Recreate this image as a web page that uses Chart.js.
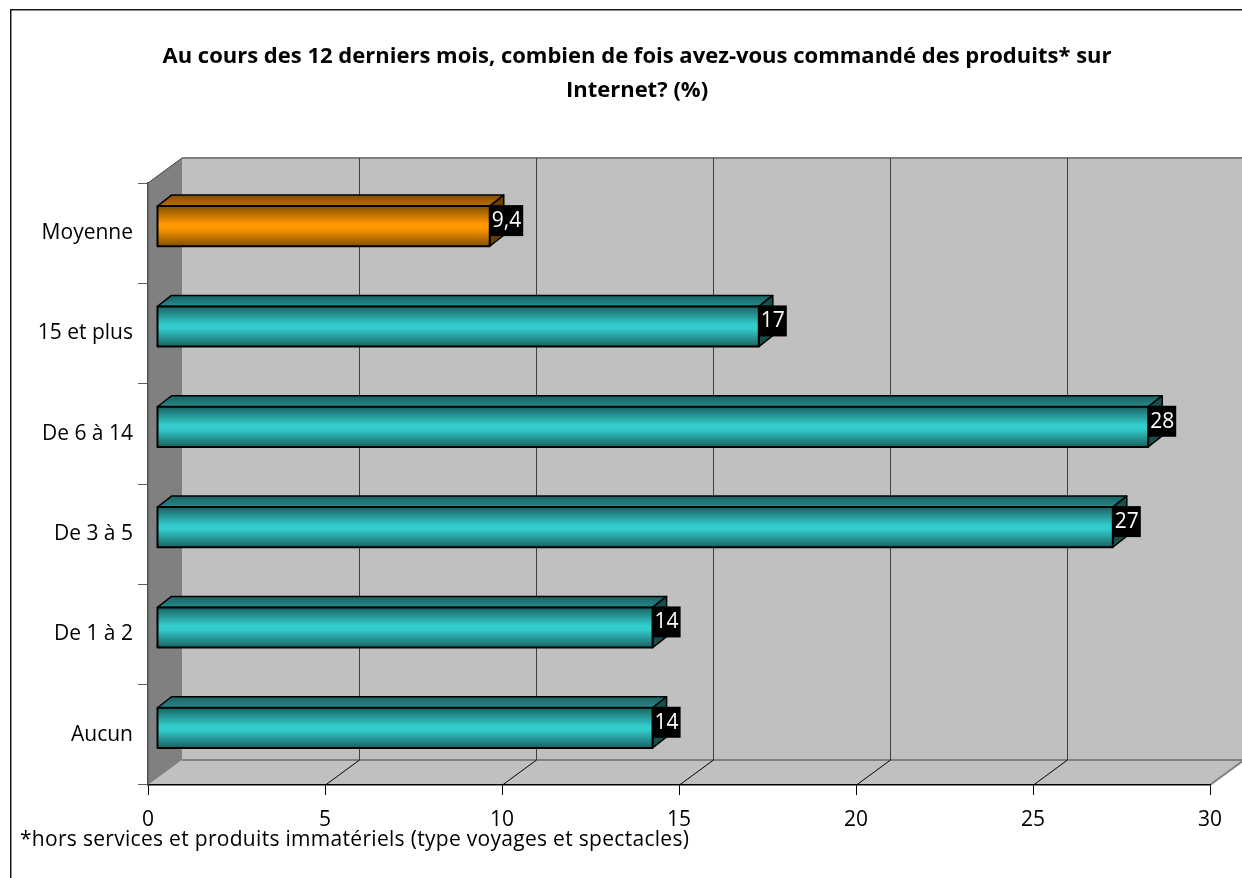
<!DOCTYPE html>
<html>
<head>
<meta charset="utf-8">
<script src="https://cdn.jsdelivr.net/npm/chart.js@4.4.1/dist/chart.umd.min.js"></script>
<style>
  html, body { margin: 0; padding: 0; background: #ffffff; }
  #wrap { width: 1242px; height: 878px; }
</style>
</head>
<body>
<div id="wrap"><canvas id="c" width="1242" height="878"></canvas></div>
<script>
// ---- data ----
const categories = ['Moyenne', '15 et plus', 'De 6 à 14', 'De 3 à 5', 'De 1 à 2', 'Aucun'];
const values = [9.4, 17, 28, 27, 14, 14];
const xMin = 0;
const xMax = 30;
const xStep = 5;
const titleLines = ['Au cours des 12 derniers mois, combien de fois avez-vous commandé des produits* sur', 'Internet? (%)'];
const footnote = '*hors services et produits immatériels (type voyages et spectacles)';

// ---- styles ----
const FONT = '"Open Sans", "Noto Sans", sans-serif';
const WALL_DX = 34, WALL_DY = 25;     // depth of the 3D box
const BAR_FX = 9, BAR_FY = -7;        // front face offset of bars
const BAR_DX = 14, BAR_DY = -11;      // bar depth
const palette = {
  teal:   { light: '#33cccc', dark: '#1a6262', top: '#248b8b', side: '#174f4f' },
  orange: { light: '#ff9900', dark: '#865000', top: '#bb6f00', side: '#6a3f00' }
};
function barStyle(label) { return label === 'Moyenne' ? palette.orange : palette.teal; }

const wallsPlugin = {
  id: 'walls',
  beforeDraw(chart) {
    const ctx = chart.ctx;
    const { left, right, top, bottom } = chart.chartArea;
    const xs = chart.scales.x;
    ctx.save();
    ctx.fillStyle = '#ffffff';
    ctx.fillRect(0, 0, chart.width, chart.height);
    // back wall
    ctx.fillStyle = '#c0c0c0';
    ctx.fillRect(left + WALL_DX, top - WALL_DY, right - left + 10, bottom - top);
    // floor
    ctx.beginPath();
    ctx.moveTo(left, bottom);
    ctx.lineTo(left + WALL_DX, bottom - WALL_DY);
    ctx.lineTo(right + WALL_DX, bottom - WALL_DY);
    ctx.lineTo(right, bottom);
    ctx.closePath();
    ctx.fill();
    // left wall
    ctx.fillStyle = '#808080';
    ctx.beginPath();
    ctx.moveTo(left, top);
    ctx.lineTo(left + WALL_DX, top - WALL_DY);
    ctx.lineTo(left + WALL_DX, bottom - WALL_DY);
    ctx.lineTo(left, bottom);
    ctx.closePath();
    ctx.fill();
    // edges
    ctx.strokeStyle = '#808080';
    ctx.lineWidth = 2;
    ctx.beginPath();
    ctx.moveTo(left + WALL_DX, top - WALL_DY);
    ctx.lineTo(chart.width + 20, top - WALL_DY);
    ctx.moveTo(left + WALL_DX, bottom - WALL_DY);
    ctx.lineTo(right + WALL_DX, bottom - WALL_DY);
    ctx.moveTo(right, bottom);
    ctx.lineTo(right + WALL_DX, bottom - WALL_DY);
    ctx.stroke();
    ctx.strokeStyle = '#404040';
    ctx.lineWidth = 1;
    ctx.beginPath();
    ctx.moveTo(left, top);
    ctx.lineTo(left + WALL_DX, top - WALL_DY);
    ctx.stroke();
    // gridlines on back wall + floor
    xs.ticks.forEach(t => {
      if (t.value <= xMin || t.value >= xMax) return;
      const px = Math.round(xs.getPixelForValue(t.value)) + 0.5;
      ctx.strokeStyle = '#404040';
      ctx.beginPath();
      ctx.moveTo(px + WALL_DX, top - WALL_DY);
      ctx.lineTo(px + WALL_DX, bottom - WALL_DY);
      ctx.stroke();
      ctx.strokeStyle = '#000000';
      ctx.beginPath();
      ctx.moveTo(px, bottom);
      ctx.lineTo(px + WALL_DX, bottom - WALL_DY);
      ctx.stroke();
    });
    // outer frame
    ctx.strokeStyle = '#1a1a1a';
    ctx.lineWidth = 1.5;
    ctx.strokeRect(10.75, 9.75, 1400, 1000);
    // title
    ctx.fillStyle = '#000000';
    ctx.font = 'bold 22px ' + FONT;
    ctx.textAlign = 'center';
    ctx.textBaseline = 'alphabetic';
    ctx.fillText(titleLines[0], 637, 63);
    ctx.fillText(titleLines[1], 637, 97);
    // footnote
    ctx.font = '21px ' + FONT;
    ctx.textAlign = 'left';
    if ('letterSpacing' in ctx) ctx.letterSpacing = '0.3px';
    ctx.fillText(footnote, 20, 846);
    if ('letterSpacing' in ctx) ctx.letterSpacing = '0px';
    ctx.restore();
  },
  beforeDatasetDraw(chart, args) {
    const ctx = chart.ctx;
    const meta = args.meta;
    ctx.save();
    meta.data.forEach((el, i) => {
      const p = el.getProps(['x', 'y', 'base', 'height'], true);
      const st = barStyle(categories[i]);
      const fx0 = p.base + BAR_FX, fx1 = p.x + BAR_FX;
      const ft = p.y - p.height / 2 + BAR_FY, fb = p.y + p.height / 2 + BAR_FY;
      ctx.lineJoin = 'round';
      // top face
      const tg = ctx.createLinearGradient(0, ft + BAR_DY, 0, ft);
      tg.addColorStop(0, st.dark);
      tg.addColorStop(1, st.top);
      ctx.fillStyle = tg;
      ctx.beginPath();
      ctx.moveTo(fx0, ft);
      ctx.lineTo(fx0 + BAR_DX, ft + BAR_DY);
      ctx.lineTo(fx1 + BAR_DX, ft + BAR_DY);
      ctx.lineTo(fx1, ft);
      ctx.closePath();
      ctx.fill();
      ctx.strokeStyle = '#000000';
      ctx.lineWidth = 1.5;
      ctx.stroke();
      // side face
      ctx.fillStyle = st.side;
      ctx.beginPath();
      ctx.moveTo(fx1, ft);
      ctx.lineTo(fx1 + BAR_DX, ft + BAR_DY);
      ctx.lineTo(fx1 + BAR_DX, fb + BAR_DY);
      ctx.lineTo(fx1, fb);
      ctx.closePath();
      ctx.fill();
      ctx.stroke();
      // front face
      const g = ctx.createLinearGradient(0, ft, 0, fb);
      g.addColorStop(0, st.dark);
      g.addColorStop(0.45, st.light);
      g.addColorStop(0.55, st.light);
      g.addColorStop(1, st.dark);
      ctx.fillStyle = g;
      ctx.fillRect(fx0, ft, fx1 - fx0, fb - ft);
      ctx.lineWidth = 2;
      ctx.strokeRect(fx0, ft, fx1 - fx0, fb - ft);
      // value label
      const txt = String(values[i]).replace('.', ',');
      ctx.font = '21px ' + FONT;
      const tw = ctx.measureText(txt).width;
      ctx.fillStyle = '#000000';
      ctx.fillRect(fx1, ft - 1, tw + 4, 31);
      ctx.fillStyle = '#ffffff';
      ctx.textAlign = 'left';
      ctx.textBaseline = 'middle';
      ctx.fillText(txt, fx1 + 2, ft + 15);
    });
    ctx.restore();
    return false;
  }
};

new Chart(document.getElementById('c'), {
  type: 'bar',
  data: {
    labels: categories,
    datasets: [{
      data: values,
      backgroundColor: (c) => barStyle(categories[c.dataIndex] || '').light,
      categoryPercentage: 1,
      barPercentage: 0.4
    }]
  },
  options: {
    indexAxis: 'y',
    responsive: false,
    animation: false,
    devicePixelRatio: 1,
    layout: { padding: { top: 183, right: 32, left: 0, bottom: 0 } },
    plugins: { legend: { display: false }, tooltip: { enabled: false }, title: { display: false } },
    scales: {
      x: {
        min: xMin, max: xMax,
        ticks: { stepSize: xStep, color: '#000', font: { family: FONT, size: 21 }, padding: 12, maxRotation: 0 },
        grid: { display: true, drawOnChartArea: false, drawTicks: true, tickLength: 10, color: '#000', lineWidth: 1 },
        border: { display: true, color: '#000', width: 1.5 },
        afterFit(s) { s.height = 93; s.paddingLeft = 0; s.paddingRight = 0; }
      },
      y: {
        ticks: { color: '#000', font: { family: FONT, size: 21 }, padding: 5 },
        grid: { display: true, drawOnChartArea: false, drawTicks: true, tickLength: 10, color: '#606060', offset: true },
        border: { display: true, color: '#505050', width: 1.5 },
        afterFit(s) { s.width = 148; s.paddingTop = 0; s.paddingBottom = 0; }
      }
    }
  },
  plugins: [wallsPlugin]
});
</script>
</body>
</html>
